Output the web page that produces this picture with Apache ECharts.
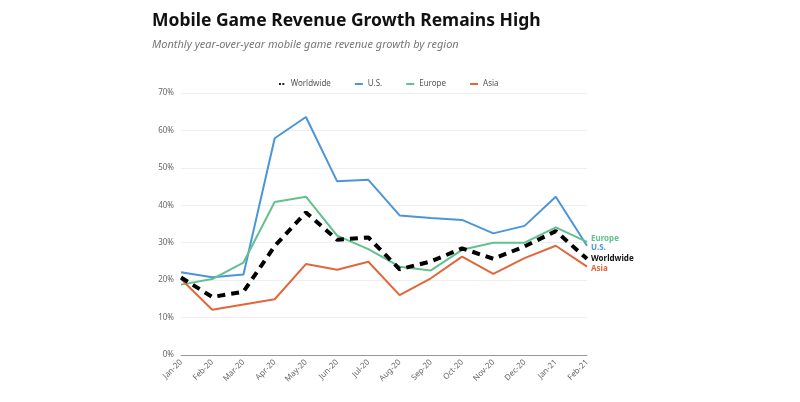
<!DOCTYPE html>
<html><head><meta charset="utf-8">
<script src="https://cdn.jsdelivr.net/npm/echarts@6/dist/echarts.min.js"></script>
<style>html,body{margin:0;padding:0;background:#fff}#c{width:800px;height:402px}</style>
</head><body><div id="c"></div>
<script>
const categories = ['Jan-20','Feb-20','Mar-20','Apr-20','May-20','Jun-20','Jul-20','Aug-20','Sep-20','Oct-20','Nov-20','Dec-20','Jan-21','Feb-21'];
const worldwide = [20.7,15.5,16.9,29.1,38.1,30.8,31.4,22.9,25.0,28.5,25.7,29.0,33.1,25.7];
const us        = [22.1,20.8,21.5,57.9,63.6,46.4,46.8,37.3,36.6,36.1,32.5,34.5,42.3,29.2];
const europe    = [18.8,20.3,24.7,40.9,42.3,31.9,28.3,23.6,22.6,28.1,30.0,30.0,34.1,30.2];
const asia      = [20.3,12.1,13.5,14.9,24.3,22.8,24.9,16.0,20.5,26.3,21.7,25.9,29.2,23.6];
const yTicks = [0,10,20,30,40,50,60,70];

const C = {ww:'#000000', us:'#4a96d8', eu:'#63c08f', as:'#e2663c'};
const chart = echarts.init(document.getElementById('c'));
function endLbl(color, dy){
  return {show:true, formatter:'{a}', color:color, fontSize:8, fontWeight:'bold',
    fontFamily:'Noto Sans', offset:[2,dy], distance:2};
}
chart.setOption({
  animation:false,
  title:{text:'Mobile Game Revenue Growth Remains High',
    subtext:'Monthly year-over-year mobile game revenue growth by region',
    left:147, top:7, itemGap:9,
    textStyle:{fontFamily:'Noto Sans', fontWeight:'bold', fontSize:17.5, color:'#111'},
    subtextStyle:{fontFamily:'Noto Sans', fontStyle:'italic', fontSize:11, color:'#777'}},
  legend:{top:75, left:274, itemGap:24, itemWidth:8, itemHeight:2,
    textStyle:{fontSize:8, color:'#555', fontFamily:'Noto Sans'},
    data:[
      {name:'Worldwide', icon:'path://M0,0h3v3h-3z M5,0h3v3h-3z', itemStyle:{color:'#222'}},
      {name:'U.S.', icon:'rect'},
      {name:'Europe', icon:'rect'},
      {name:'Asia', icon:'rect'}]},
  grid:{left:181, right:213, top:93, bottom:47},
  xAxis:{type:'category', data:categories, boundaryGap:false,
    axisLine:{lineStyle:{color:'#999'}}, axisTick:{show:false},
    axisLabel:{rotate:45, fontSize:8, color:'#666', fontFamily:'Noto Sans', margin:6, interval:0}},
  yAxis:{type:'value', min:0, max:70, interval:10,
    axisLine:{show:false}, axisTick:{show:false},
    splitLine:{lineStyle:{color:'#eeeeee'}},
    axisLabel:{formatter:v=>v+'%', fontSize:8, color:'#666', fontFamily:'Noto Sans', margin:7}},
  series:[
    {name:'U.S.', type:'line', data:us, symbol:'none', z:2,
      lineStyle:{color:C.us, width:2}, itemStyle:{color:C.us},
      endLabel:endLbl(C.us,2)},
    {name:'Europe', type:'line', data:europe, symbol:'none', z:2,
      lineStyle:{color:C.eu, width:2}, itemStyle:{color:C.eu},
      endLabel:endLbl(C.eu,-3)},
    {name:'Asia', type:'line', data:asia, symbol:'none', z:2,
      lineStyle:{color:C.as, width:2}, itemStyle:{color:C.as},
      endLabel:endLbl(C.as,2)},
    {name:'Worldwide', type:'line', data:worldwide, symbol:'none', z:3,
      lineStyle:{color:C.ww, width:4, type:[8,6]}, itemStyle:{color:C.ww},
      endLabel:endLbl('#111',0)}
  ]
});
</script></body></html>
